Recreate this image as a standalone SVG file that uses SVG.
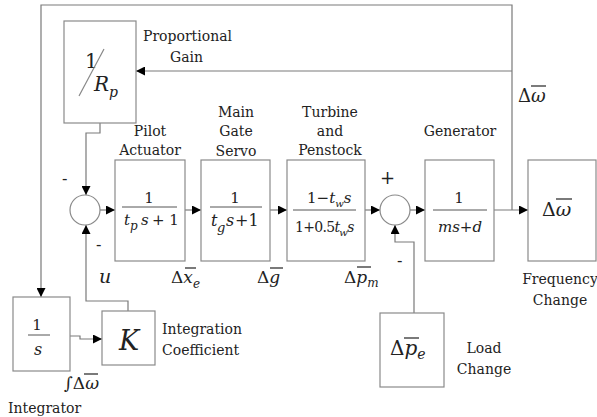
<svg xmlns="http://www.w3.org/2000/svg" width="597" height="417" viewBox="0 0 597 417">
<defs>
<style>
.box{fill:#fff;stroke:#8a8a8a;stroke-width:1.2}
.sum{fill:#fff;stroke:#8a8a8a;stroke-width:1.2}
.wire{fill:none;stroke:#7a7a7a;stroke-width:1.2}
text{font-family:'DejaVu Serif',serif}
.lbl{font-size:14px;fill:#222}
.m{fill:#222}
.it{font-style:italic}
.bar{stroke:#222;stroke-width:1.2}
.fbar{stroke:#555;stroke-width:1}
</style>
<marker id="ar" viewBox="0 0 10 10" refX="10" refY="5" markerWidth="10" markerHeight="9" markerUnits="userSpaceOnUse" orient="auto">
<path d="M0,0 L10,5 L0,10 z" fill="#000"/>
</marker>
</defs>
<rect width="597" height="417" fill="#fff"/>
<g id="connectors">
<path class="wire" d="M512,210 V5 H41 V297" marker-end="url(#ar)"/>
<path class="wire" d="M512,71 H136" marker-end="url(#ar)"/>
<path class="wire" d="M100,123 V133 H86 V195" marker-end="url(#ar)"/>
<path class="wire" d="M100,210 H115" marker-end="url(#ar)"/>
<path class="wire" d="M185,210 H201" marker-end="url(#ar)"/>
<path class="wire" d="M270,210 H287" marker-end="url(#ar)"/>
<path class="wire" d="M365,210 H380" marker-end="url(#ar)"/>
<path class="wire" d="M410,210 H425" marker-end="url(#ar)"/>
<path class="wire" d="M494,210 H528" marker-end="url(#ar)"/>
<path class="wire" d="M414,313 V242 H395 V225" marker-end="url(#ar)"/>
<path class="wire" d="M128,311 V301 H86 V225" marker-end="url(#ar)"/>
<path class="wire" d="M70,336 H80 V339 H102" marker-end="url(#ar)"/>
</g>
<g id="gainRp">
<rect class="box" x="64" y="21" width="72" height="102"/>
<text class="m" x="85" y="68" font-size="20">1</text>
<line x1="79" y1="96" x2="104" y2="49" stroke="#888" stroke-width="1.2"/>
<text class="m it" x="94" y="91" font-size="20">R</text>
<text class="m it" x="109" y="97" font-size="14">p</text>
</g>
<g id="sum1"><circle class="sum" cx="85" cy="210" r="15"/></g>
<g id="pilot">
<rect class="box" x="115" y="160" width="70" height="101"/>
<text class="m" x="149" y="203" font-size="15" text-anchor="middle">1</text>
<line class="fbar" x1="122" y1="207" x2="177" y2="207"/>
<text class="m it" x="124" y="225" font-size="15">t</text>
<text class="m it" x="130" y="230" font-size="12">p</text>
<text class="m it" x="141" y="225" font-size="15">s</text>
<text class="m" x="152" y="225" font-size="15">+ 1</text>
</g>
<g id="servo">
<rect class="box" x="201" y="160" width="69" height="101"/>
<text class="m" x="235" y="203" font-size="15" text-anchor="middle">1</text>
<line class="fbar" x1="210" y1="207" x2="262" y2="207"/>
<text class="m it" x="211" y="226" font-size="16">t</text>
<text class="m it" x="217" y="232" font-size="13">g</text>
<text class="m it" x="226" y="226" font-size="16">s</text>
<text class="m" x="235" y="226" font-size="16">+1</text>
</g>
<g id="turbine">
<rect class="box" x="287" y="160" width="78" height="101"/>
<text class="m" x="307" y="203" font-size="15">1−<tspan class="it">t</tspan><tspan class="it" font-size="10" dy="4">w</tspan><tspan class="it" dy="-4">s</tspan></text>
<line class="fbar" x1="293" y1="210" x2="356" y2="210"/>
<text class="m" x="295" y="232" font-size="14" letter-spacing="-0.7">1+0.5<tspan class="it">t</tspan><tspan class="it" font-size="10" dy="4">w</tspan><tspan class="it" dy="-4">s</tspan></text>
</g>
<g id="sum2"><circle class="sum" cx="395" cy="210" r="15"/></g>
<g id="generator">
<rect class="box" x="425" y="160" width="69" height="101"/>
<text class="m" x="459" y="203" font-size="15" text-anchor="middle">1</text>
<line class="fbar" x1="433" y1="210" x2="487" y2="210"/>
<text class="m it" x="460" y="232" font-size="15" text-anchor="middle">ms+d</text>
</g>
<g id="output">
<rect class="box" x="528" y="160" width="68" height="101"/>
<text class="m" x="542" y="216" font-size="19">Δ<tspan class="it">ω</tspan></text>
<line class="bar" x1="556" y1="199" x2="572" y2="199"/>
</g>
<g id="integrator">
<rect class="box" x="13" y="297" width="57" height="74"/>
<text class="m" x="37" y="330" font-size="15" text-anchor="middle">1</text>
<line class="fbar" x1="28" y1="335" x2="50" y2="335"/>
<text class="m it" x="38" y="355" font-size="16" text-anchor="middle">s</text>
</g>
<g id="gainK">
<rect class="box" x="102" y="311" width="53" height="54"/>
<text class="m it" x="129" y="350" font-size="27" text-anchor="middle">K</text>
</g>
<g id="load">
<rect class="box" x="380" y="313" width="64" height="74"/>
<text class="m" x="390" y="355" font-size="20">Δ<tspan class="it">p</tspan><tspan class="it" font-size="14" dy="4">e</tspan></text>
<line class="bar" x1="404" y1="338" x2="419" y2="338" stroke-width="2"/>
</g>
<g id="labels">
<text class="lbl" x="143" y="41">Proportional</text>
<text class="lbl" x="170" y="62">Gain</text>
<text class="lbl" x="150" y="136" text-anchor="middle">Pilot</text>
<text class="lbl" x="150" y="155" text-anchor="middle">Actuator</text>
<text class="lbl" x="236" y="117" text-anchor="middle">Main</text>
<text class="lbl" x="236" y="136" text-anchor="middle">Gate</text>
<text class="lbl" x="236" y="156" text-anchor="middle">Servo</text>
<text class="lbl" x="330" y="117" text-anchor="middle">Turbine</text>
<text class="lbl" x="330" y="136" text-anchor="middle">and</text>
<text class="lbl" x="330" y="155" text-anchor="middle">Penstock</text>
<text class="lbl" x="460" y="136" text-anchor="middle">Generator</text>
<text class="lbl" x="560" y="284" text-anchor="middle">Frequency</text>
<text class="lbl" x="560" y="305" text-anchor="middle">Change</text>
<text class="lbl" x="484" y="353" text-anchor="middle">Load</text>
<text class="lbl" x="484" y="374" text-anchor="middle">Change</text>
<text class="lbl" x="162" y="334">Integration</text>
<text class="lbl" x="162" y="355">Coefficient</text>
<text class="lbl" x="8" y="413">Integrator</text>
<text class="m" x="518" y="102" font-size="18">Δ<tspan class="it">ω</tspan></text>
<line class="bar" x1="531" y1="86" x2="546" y2="86"/>
<text class="m" x="62" y="184" font-size="16">-</text>
<text class="m" x="96" y="250" font-size="16">-</text>
<text class="m" x="380" y="184" font-size="18">+</text>
<text class="m" x="397" y="266" font-size="16">-</text>
<text class="m it" x="99" y="283" font-size="19">u</text>
<text class="m" x="171" y="283" font-size="17">Δ<tspan class="it">x</tspan><tspan class="it" font-size="12" dy="5">e</tspan></text>
<line class="bar" x1="185" y1="268" x2="196" y2="268" stroke-width="1.8"/>
<text class="m" x="257" y="283" font-size="17">Δ<tspan class="it">g</tspan></text>
<line class="bar" x1="270" y1="268" x2="283" y2="268" stroke-width="1.8"/>
<text class="m" x="344" y="283" font-size="17">Δ<tspan class="it">p</tspan><tspan class="it" font-size="12" dy="4">m</tspan></text>
<line class="bar" x1="357" y1="267" x2="371" y2="267" stroke-width="1.8"/>
<text class="m" x="64" y="389" font-size="17">∫Δ<tspan class="it">ω</tspan></text>
<line class="bar" x1="84" y1="374" x2="98" y2="374"/>
</g>
</svg>
